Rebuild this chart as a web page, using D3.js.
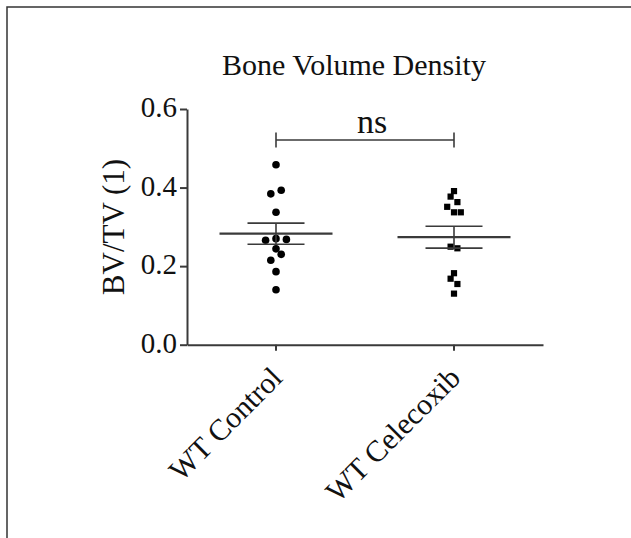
<!DOCTYPE html>
<html>
<head>
<meta charset="utf-8">
<script src="https://cdn.jsdelivr.net/npm/d3@7"></script>
<style>
    body { margin: 0; background: #fff; }
    svg { display: block; }
    text { font-family: "Liberation Serif", "Times New Roman", serif; fill: #111; }
</style>
</head>
<body>
<div id="chart"></div>
<script>
// values
const categories = ["WT Control", "WT Celecoxib"];
const controlValues = [0.458, 0.393, 0.384, 0.337, 0.270, 0.268, 0.266, 0.244, 0.230, 0.215, 0.186, 0.140];
const celecoxibValues = [0.391, 0.377, 0.363, 0.351, 0.337, 0.337, 0.2495, 0.2454, 0.182, 0.168, 0.1545, 0.130];
// scatter column of each point (Prism spreads touching points sideways)
const controlSlots = [0, 1, -1, 0, 0, 2, -2, 0, 1, -1, 0, 0];
const celecoxibSlots = [0, -1, 1, -2, 0, 2, -1, 1, 0, -1, 1, 0];
const yTicks = [0, 0.2, 0.4, 0.6];
const sigLabel = "ns";
const sigLevel = 0.521;

const width = 631, height = 538;
const ink = "#3a3a3a";

const svg = d3.select("#chart").append("svg")
    .attr("width", width)
    .attr("height", height);

svg.append("rect")
    .attr("width", width).attr("height", height)
    .attr("fill", "#fff");

// border of the original figure panel (cropped on right and bottom)
svg.append("rect")
    .attr("x", 7).attr("y", 7)
    .attr("width", 700).attr("height", 600)
    .attr("fill", "none")
    .attr("stroke", "#333")
    .attr("stroke-width", 1.5);

const x = d3.scaleBand()
    .domain(categories)
    .range([187, 543]);

const y = d3.scaleLinear()
    .domain([0, 0.6])
    .range([344.7, 109]);

// axes
const yAxis = svg.append("g")
    .attr("transform", `translate(${x.range()[0]},0)`)
    .call(d3.axisLeft(y).tickValues(yTicks).tickFormat(d3.format(".1f"))
        .tickSize(7).tickSizeOuter(0).tickPadding(3));

const xAxis = svg.append("g")
    .attr("transform", `translate(0,${y(0)})`)
    .call(d3.axisBottom(x).tickSize(6).tickSizeOuter(0));

[yAxis, xAxis].forEach(g => {
    g.select(".domain").attr("stroke", ink).attr("stroke-width", 2);
    g.selectAll(".tick line").attr("stroke", ink).attr("stroke-width", 2);
});

yAxis.selectAll(".tick text")
    .style("font-family", '"Liberation Serif", "Times New Roman", serif')
    .style("font-size", "29px")
    .attr("fill", "#111")
    .attr("dy", "0.27em");

xAxis.selectAll(".tick text")
    .style("font-family", '"Liberation Serif", "Times New Roman", serif')
    .style("font-size", "30px")
    .attr("fill", "#111")
    .attr("text-anchor", "end")
    .attr("x", 0).attr("y", 0).attr("dy", 0)
    .attr("transform", "translate(8,35) rotate(-45)");

// titles
svg.append("text")
    .attr("x", 354)
    .attr("y", 75)
    .attr("text-anchor", "middle")
    .style("font-size", "30px")
    .text("Bone Volume Density");

svg.append("text")
    .attr("transform", "translate(124,227) rotate(-90)")
    .attr("text-anchor", "middle")
    .style("font-size", "31px")
    .text("BV/TV (1)");

// data groups
const groups = [
    {name: categories[0], values: controlValues, slots: controlSlots, step: 5.2, shape: "circle"},
    {name: categories[1], values: celecoxibValues, slots: celecoxibSlots, step: 3.4, shape: "square"}
];

groups.forEach(grp => {
    const cx = x(grp.name) + x.bandwidth() / 2;
    const mean = d3.mean(grp.values);
    const sem = d3.deviation(grp.values) / Math.sqrt(grp.values.length);
    const g = svg.append("g");

    const pts = grp.values.map((v, i) => ({v, s: grp.slots[i]}));
    if (grp.shape === "circle") {
        g.selectAll("circle").data(pts).join("circle")
            .attr("cx", d => cx + d.s * grp.step)
            .attr("cy", d => y(d.v))
            .attr("r", 3.8)
            .attr("fill", "#000");
    } else {
        const side = 6.2;
        g.selectAll("rect").data(pts).join("rect")
            .attr("x", d => cx + d.s * grp.step - side / 2)
            .attr("y", d => y(d.v) - side / 2)
            .attr("width", side).attr("height", side)
            .attr("fill", "#000");
    }

    // mean line and SEM whiskers
    g.append("line")
        .attr("x1", cx - 56.5).attr("x2", cx + 56.5)
        .attr("y1", y(mean)).attr("y2", y(mean))
        .attr("stroke", ink).attr("stroke-width", 2.2);
    g.append("line")
        .attr("x1", cx).attr("x2", cx)
        .attr("y1", y(mean + sem)).attr("y2", y(mean - sem))
        .attr("stroke", ink).attr("stroke-width", 1.6);
    [mean + sem, mean - sem].forEach(v => {
        g.append("line")
            .attr("x1", cx - 28.5).attr("x2", cx + 28.5)
            .attr("y1", y(v)).attr("y2", y(v))
            .attr("stroke", ink).attr("stroke-width", 1.6);
    });
});

// significance bracket
const bx1 = x(categories[0]) + x.bandwidth() / 2;
const bx2 = x(categories[1]) + x.bandwidth() / 2;
const by = y(sigLevel);
const bracket = svg.append("g")
    .attr("stroke", ink).attr("stroke-width", 1.6);
bracket.append("line").attr("x1", bx1).attr("x2", bx2).attr("y1", by).attr("y2", by);
[bx1, bx2].forEach(bx => {
    bracket.append("line").attr("x1", bx).attr("x2", bx).attr("y1", by - 7.5).attr("y2", by + 7.5);
});

svg.append("text")
    .attr("x", (bx1 + bx2) / 2 + 7)
    .attr("y", by - 7.3)
    .attr("text-anchor", "middle")
    .style("font-size", "34px")
    .text(sigLabel);
</script>
</body>
</html>
